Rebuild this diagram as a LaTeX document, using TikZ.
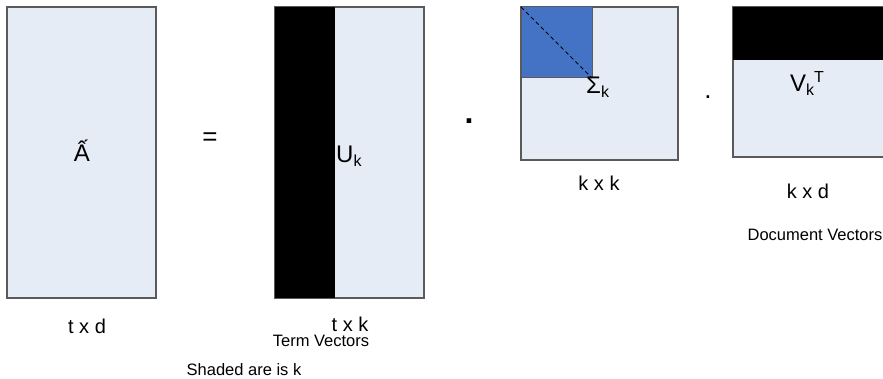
\documentclass[tikz,border=0pt]{standalone}
\usepackage{fontspec}
\setmainfont{Liberation Sans}
\usetikzlibrary{positioning}
\definecolor{lightfill}{HTML}{E6ECF6}
\definecolor{sigblue}{HTML}{4472C4}
\definecolor{edgegray}{HTML}{5A5A5A}
\newcommand{\fs}[1]{\fontsize{#1}{#1}\selectfont}
\newcommand{\idx}[1]{\raisebox{-0.3ex}{\fs{16}#1}}

\begin{document}
\begin{tikzpicture}[
        x=1pt, y=-1pt,
        matrixbox/.style={rectangle, draw=edgegray, fill=lightfill, line width=1.2pt, inner sep=0pt, outer sep=0pt},
        shadebox/.style={rectangle, fill=black, inner sep=0pt, outer sep=0pt},
        sigbox/.style={rectangle, draw=edgegray, fill=sigblue, line width=1pt, inner sep=0pt, outer sep=0pt},
        bigsym/.style={inner sep=0pt, font=\fs{24}},
        dimlabel/.style={inner sep=0pt, font=\fs{20}},
        notelabel/.style={inner sep=0pt, font=\fs{16.5}}
    ]
        \useasboundingbox (0,0) rectangle (883,379);
        \clip (0,0) rectangle (883,379);

        % Matrices
        \node (amat) at (81.5, 152.5) [matrixbox, minimum width=149, minimum height=291] {};
        \node (umat) at (349.5, 152.5) [matrixbox, minimum width=149, minimum height=291] {};
        \node (ushade) at (305, 152.5) [shadebox, minimum width=60, minimum height=291] {};
        \node (smat) at (599.5, 83.5) [matrixbox, minimum width=157, minimum height=153] {};
        \node (sshade) at (556.5, 42.5) [sigbox, minimum width=71, minimum height=71] {};
        \node (vmat) at (811.5, 82) [matrixbox, minimum width=157, minimum height=150] {};
        \node (vshade) at (811.5, 33.5) [shadebox, minimum width=157, minimum height=53] {};

        % Diagonal
        \draw[dash pattern=on 4pt off 3pt, line width=0.8pt] (sshade.north west) -- (sshade.south east);

        % Symbols
        \node (alab) at (82, 162) [bigsym, anchor=base] {Ấ};
        \node (ulab) at (336, 163) [bigsym, anchor=base west] {U\idx{k}};
        \node (slab) at (586, 94) [bigsym, anchor=base west] {Σ\idx{k}};
        \node (vlab) at (790, 92) [bigsym, anchor=base west] {V\idx{k}\raisebox{0.75ex}{\fs{16}T}};
        \node (eq) at (210, 139) [inner sep=0pt, font=\fs{26}] {=};
        \node (dot1) at (469, 121) [inner sep=0pt, font=\bfseries\fs{32}] {.};
        \node (dot2) at (708, 97) [inner sep=0pt, font=\fs{26}] {.};

        % Labels
        \node (adim) at (87, 326) [dimlabel] {t x d};
        \node (udim) at (350, 324) [dimlabel] {t x k};
        \node (uname) at (321, 341) [notelabel] {Term Vectors};
        \node (note) at (244, 370) [notelabel] {Shaded are is k};
        \node (sdim) at (599, 183) [dimlabel] {k x k};
        \node (vdim) at (808, 191) [dimlabel] {k x d};
        \node (vname) at (815, 235) [notelabel] {Document Vectors};

    \end{tikzpicture}
\end{document}
